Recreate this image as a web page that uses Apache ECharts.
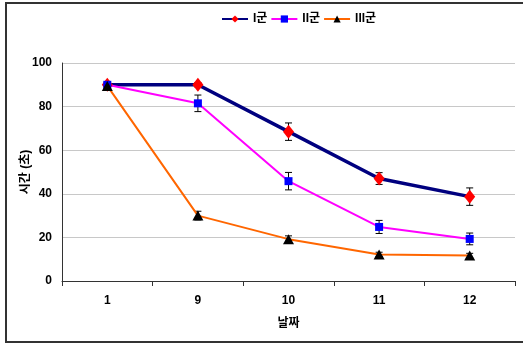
<!DOCTYPE html>
<html><head><meta charset="utf-8">
<script src="https://cdn.jsdelivr.net/npm/echarts@6/dist/echarts.min.js"></script>
<style>html,body{margin:0;padding:0;background:#fff}#c{width:523px;height:344px}</style>
</head><body><div id="c"></div>
<script>
var categories = ['1', '9', '10', '11', '12'];
var seriesNames = ['I군', 'II군', 'III군'];
var group1 = [90, 90, 68.5, 47, 38.7];
var group2 = [90, 81.5, 45.8, 24.8, 19.3];
var group3 = [89.5, 30, 19.2, 12.2, 11.7];
var err1 = [0.8, 1, 4, 2.7, 4];
var err2 = [0.8, 3.8, 4, 3, 2.7];
var err3 = [0.8, 2, 1.5, 1, 1];
var yTicks = [0, 20, 40, 60, 80, 100];

var chart = echarts.init(document.getElementById('c'));
var font = '"Liberation Sans", Arial, "Noto Sans CJK KR", sans-serif';

function errSeries(vals, errs) {
  return {
    type: 'custom', z: 1, silent: true,
    data: vals.map(function (v, i) { return [i, v - errs[i], v + errs[i]]; }),
    renderItem: function (params, api) {
      var lo = api.coord([api.value(0), api.value(1)]);
      var hi = api.coord([api.value(0), api.value(2)]);
      var hw = 3.5;
      var st = { stroke: '#000', lineWidth: 1 };
      return { type: 'group', children: [
        { type: 'line', shape: { x1: lo[0], y1: lo[1], x2: hi[0], y2: hi[1] }, style: st },
        { type: 'line', shape: { x1: lo[0] - hw, y1: lo[1], x2: lo[0] + hw, y2: lo[1] }, style: st },
        { type: 'line', shape: { x1: hi[0] - hw, y1: hi[1], x2: hi[0] + hw, y2: hi[1] }, style: st }
      ]};
    }
  };
}

chart.setOption({
  animation: false,
  backgroundColor: '#fff',
  graphic: [{
    type: 'rect', shape: { x: 6, y: 3, width: 540, height: 339 },
    style: { fill: 'none', stroke: '#333', lineWidth: 2 }, z: -10
  }],
  legend: {
    top: 8, left: 216,
    data: seriesNames,
    itemWidth: 26, itemHeight: 9, itemGap: 3,
    textStyle: { fontFamily: font, fontSize: 12, fontWeight: 'bold', color: '#000' }
  },
  grid: { left: 62, right: 8, top: 63, bottom: 63 },
  xAxis: {
    type: 'category', data: categories,
    name: '날짜', nameLocation: 'middle', nameGap: 37, nameMoveOverlap: false,
    nameTextStyle: { fontFamily: font, fontSize: 12, fontWeight: 'bold', color: '#000' },
    axisLine: { lineStyle: { color: '#333', width: 1 } },
    axisTick: { show: true, length: 5, lineStyle: { color: '#333' } },
    axisLabel: { fontFamily: font, fontSize: 12, fontWeight: 'bold', color: '#000', margin: 14 }
  },
  yAxis: {
    type: 'value', min: 0, max: 100, interval: 20,
    name: '시간 (초)', nameLocation: 'middle', nameGap: 30, nameMoveOverlap: false,
    nameTextStyle: { fontFamily: font, fontSize: 12, fontWeight: 'bold', color: '#000' },
    axisLine: { show: true, lineStyle: { color: '#333', width: 1 } },
    axisTick: { show: false },
    splitLine: { lineStyle: { color: '#c8c8c8', width: 1 } },
    axisLabel: { fontFamily: font, fontSize: 12, fontWeight: 'bold', color: '#000', margin: 10,
      formatter: function (v) { return yTicks.indexOf(v) >= 0 ? String(v) : ''; } }
  },
  series: [
    errSeries(group1, err1), errSeries(group2, err2), errSeries(group3, err3),
    { name: seriesNames[0], type: 'line', data: group1, z: 3,
      lineStyle: { color: '#00007f', width: 3.5 },
      itemStyle: { color: '#ff0000', borderWidth: 0 },
      symbol: 'diamond', symbolSize: [11, 14], showAllSymbol: true },
    { name: seriesNames[1], type: 'line', data: group2, z: 3,
      lineStyle: { color: '#ff00ff', width: 2 },
      itemStyle: { color: '#0000ff', borderWidth: 0 },
      symbol: 'rect', symbolSize: 8 },
    { name: seriesNames[2], type: 'line', data: group3, z: 3,
      lineStyle: { color: '#ff6600', width: 2 },
      itemStyle: { color: '#000000', borderWidth: 0 },
      symbol: 'triangle', symbolSize: [11, 10] }
  ]
});
</script></body></html>
